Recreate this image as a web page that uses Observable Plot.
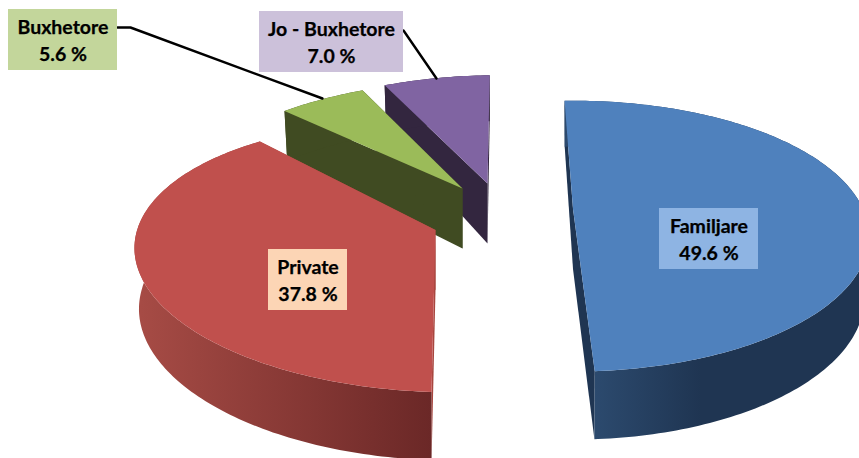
<!DOCTYPE html>
<html>
<head>
<meta charset="utf-8">
<script src="https://cdn.jsdelivr.net/npm/d3@7"></script>
<script src="https://cdn.jsdelivr.net/npm/@observablehq/plot@0.6"></script>
<style>html,body{margin:0;padding:0;background:#fff;overflow:hidden}svg{display:block}</style>
</head>
<body>
<div id="chart"></div>
<script>
// Data
const categories = ["Familjare", "Private", "Buxhetore", "Jo - Buxhetore"];
const shares = [49.6, 37.8, 5.6, 7.0];
// Styles
const topColors = ["#4F81BD", "#C0504D", "#9BBB59", "#8064A2"];
const cutColors = ["#1F3552", "#A8463F", "#404B22", "#33263F"];
const wallColors = ["url(#wall0)", "url(#wall1)", "#404B22", "#33263F"];
const boxColors = ["#8EB4E3", "#FCD5B5", "#C3D69B", "#CCC1DA"];
// Layout of the exploded, tilted pie
const apexX = [572.5, 435, 462, 487];
const apexY = [208.5, 229.5, 188, 183];
const radiusX = [290, 290, 290, 290];
const tilt = [0, 0.0625, 0, 0];
const radiusY = 130, perspective = 0.2, startAngle = -2, vanishX = 572.5, lean = 0.75;
const boxX1 = [659, 268, 8, 259], boxX2 = [758, 347, 117, 403];
const boxY1 = [208, 249, 9, 11], boxY2 = [269, 310, 70, 72];
const leaders = [
  [[117, 27], [130, 27], [322, 98]],
  [[403, 30], [436, 78]]
];

const rad = d => d * Math.PI / 180;
const total = d3.sum(shares);
let cum = startAngle;
const slices = categories.map((name, i) => {
  const a0 = cum, a1 = cum + shares[i] / total * 360;
  cum = a1;
  return {name, i, a0, a1};
});
function rimTop(i, deg) {
  const t = rad(deg), c = Math.cos(t), s = 1 / (1 + perspective * c);
  const x0 = lean * (apexX[i] - vanishX);
  const dx = x0 * (s - 1) + radiusX[i] * Math.sin(t) * s;
  return [apexX[i] + dx, apexY[i] - radiusY * c * s + tilt[i] * dx];
}
function drop(i, p) {
  const dx = p[0] - apexX[i], dy = p[1] - apexY[i];
  const depth = 60 + (dy < 0 ? 0.13 * dy : 0.05 * dy);
  return [apexX[i] + dx * 0.985, p[1] + depth];
}
const polys = [];
let pid = 0;
function addPoly(pts, color) {
  const id = pid++;
  pts.forEach(p => polys.push({x: p[0], y: p[1], id, color}));
}
for (const s of [...slices].reverse()) {
  const i = s.i, apex = [apexX[i], apexY[i]], apexB = drop(i, apex);
  for (const a of [s.a0, s.a1]) {
    const p = rimTop(i, a);
    addPoly([apex, p, drop(i, p), apexB], cutColors[i]);
  }
  const rim = [];
  for (let a = s.a0; a < s.a1; a += 1) rim.push(rimTop(i, a));
  rim.push(rimTop(i, s.a1));
  addPoly([...rim, ...rim.map(p => drop(i, p)).reverse()], wallColors[i]);
  addPoly([apex, ...rim], topColors[i]);
}
const labels = slices.map(s => ({
  x1: boxX1[s.i], x2: boxX2[s.i], y1: boxY1[s.i], y2: boxY2[s.i],
  fill: boxColors[s.i],
  cx: (boxX1[s.i] + boxX2[s.i]) / 2, cy: (boxY1[s.i] + boxY2[s.i]) / 2 - 1,
  text: `${s.name}\n${shares[s.i].toFixed(1)} %`
}));
const leaderPts = leaders.flatMap((l, k) => l.map(p => ({x: p[0], y: p[1], k})));

function gradients() {
  const defs = d3.create("svg:defs");
  const specs = [
    {id: "wall0", x1: 594, x2: 700, c1: "#2C4A6E", c2: "#1F3552"},
    {id: "wall1", x1: 431, x2: 140, c1: "#6B2827", c2: "#A64B45"}
  ];
  for (const g of specs) {
    const lg = defs.append("linearGradient").attr("id", g.id)
      .attr("gradientUnits", "userSpaceOnUse")
      .attr("x1", g.x1).attr("x2", g.x2).attr("y1", 0).attr("y2", 0);
    lg.append("stop").attr("offset", 0).attr("stop-color", g.c1);
    lg.append("stop").attr("offset", 1).attr("stop-color", g.c2);
  }
  return defs.node();
}

const chart = Plot.plot({
  width: 859, height: 458,
  margin: 0,
  x: {domain: [0, 859], range: [0, 859], axis: null},
  y: {domain: [0, 458], range: [0, 458], axis: null},
  color: {type: "identity"},
  marks: [
    gradients,
    Plot.line(polys, {x: "x", y: "y", z: "id", fill: "color", strokeWidth: 0, curve: "linear-closed"}),
    Plot.line(leaderPts, {x: "x", y: "y", z: "k", stroke: "#000", strokeWidth: 2.4}),
    Plot.rect(labels, {x1: "x1", x2: "x2", y1: "y1", y2: "y2", fill: "fill"}),
    Plot.text(labels, {x: "cx", y: "cy", text: "text", fill: "#000", stroke: "#000", strokeWidth: 0.25, fontFamily: "Lato", fontWeight: 700, fontSize: 19.5, lineHeight: 1.36})
  ]
});
document.getElementById("chart").append(chart);
</script>
</body>
</html>
